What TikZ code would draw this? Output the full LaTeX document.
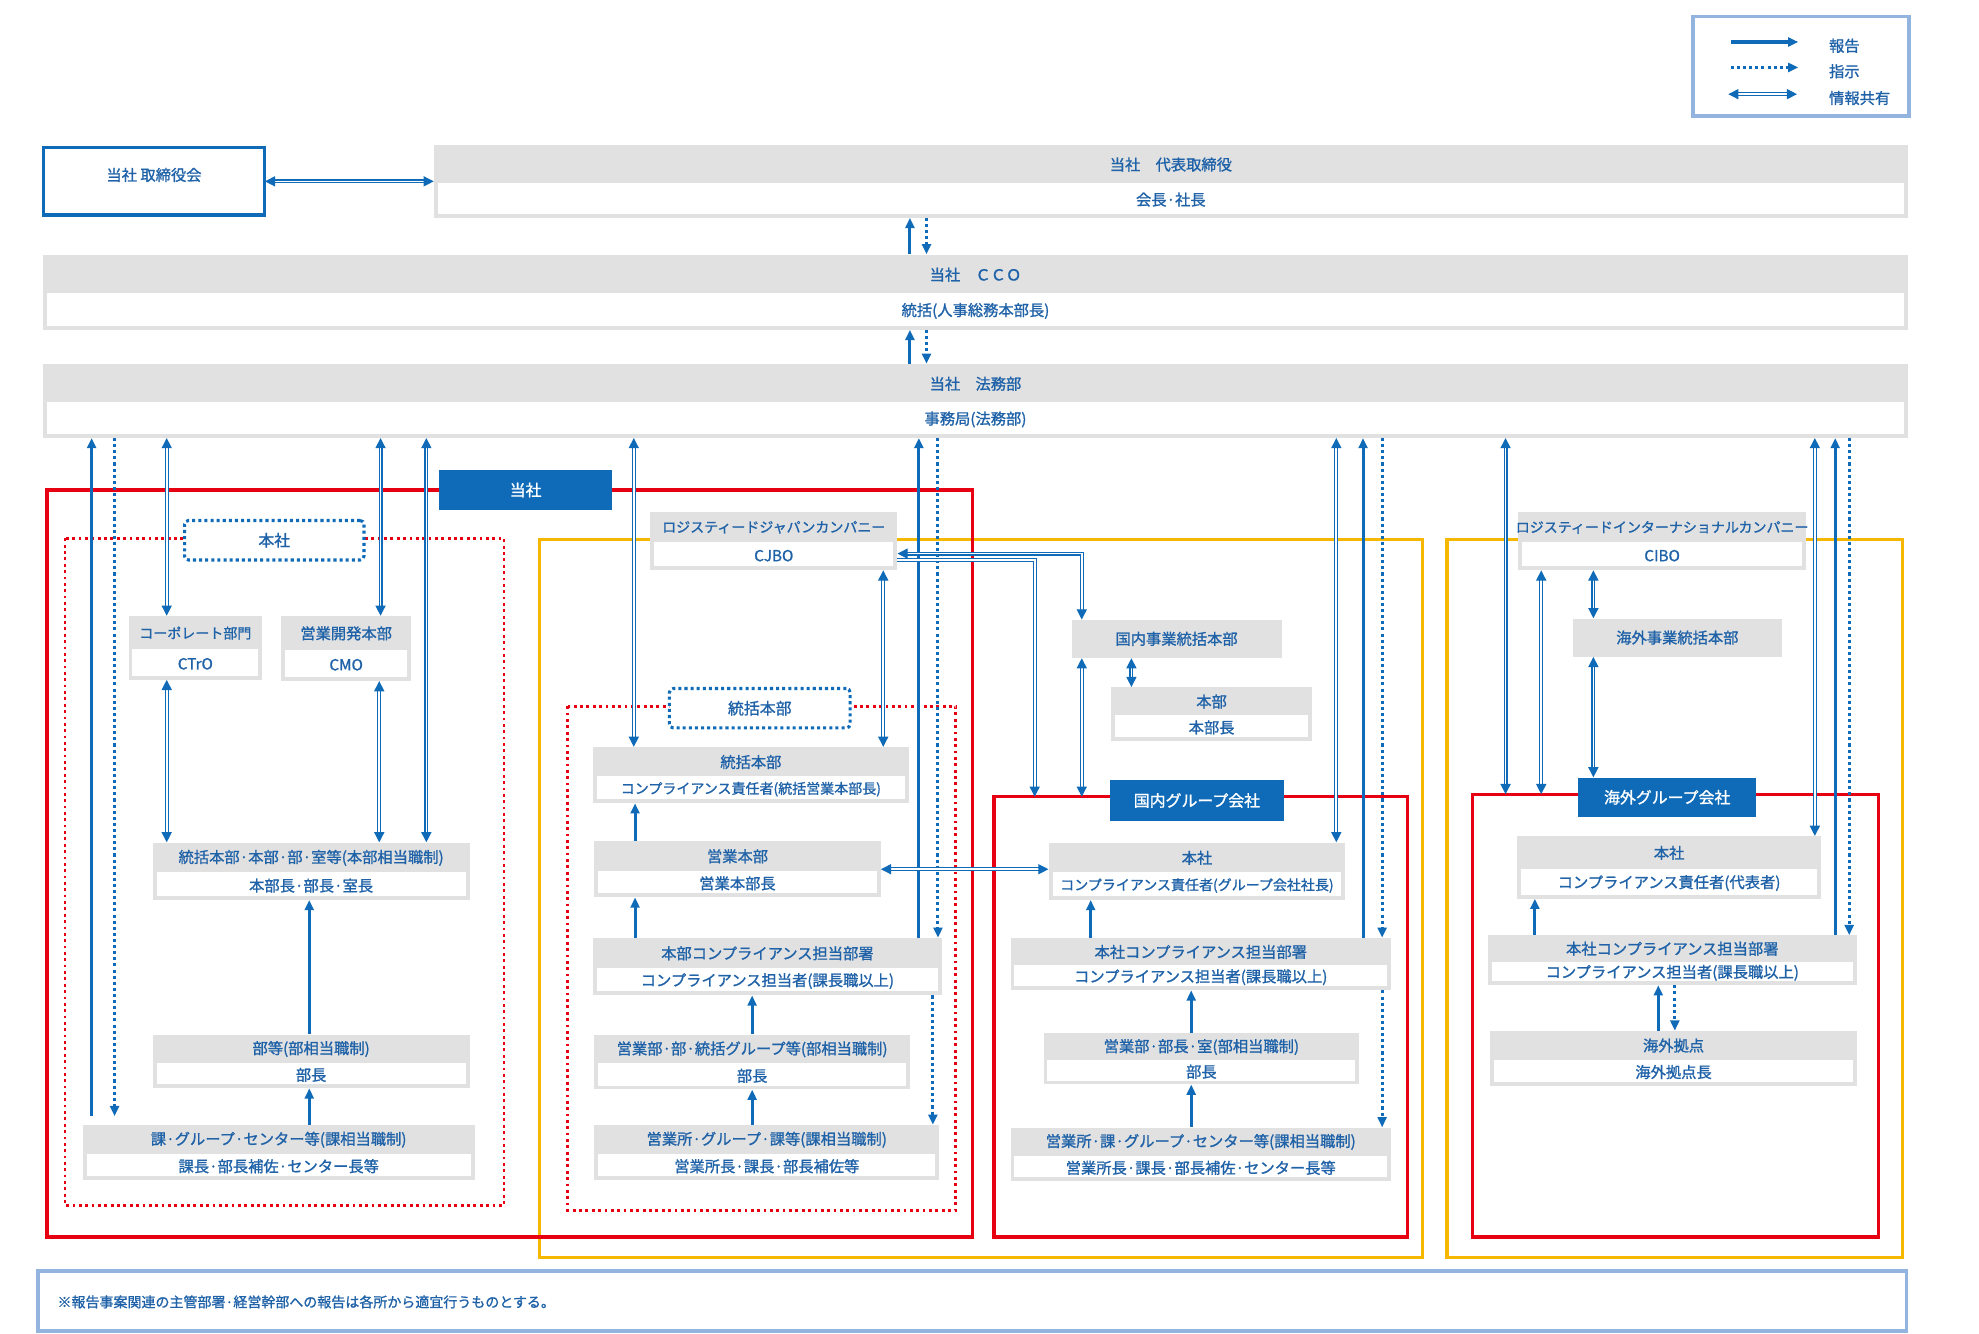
\documentclass[tikz,border=0pt]{standalone}
\usepackage{fontspec}
\setmainfont{Noto Sans CJK JP}[FakeBold=1.2,AutoFakeBold=1.2]
\usetikzlibrary{arrows.meta,calc,fit}
\definecolor{tb}{HTML}{1F62A8}
\definecolor{ab}{HTML}{0F6BB8}
\definecolor{gb}{HTML}{E1E1E1}
\definecolor{rr}{HTML}{E60012}
\definecolor{yy}{HTML}{F5B700}
\definecolor{lb}{HTML}{94B4E0}
\newcommand\smtx[1]{{\fontsize{11}{13}\selectfont #1}}
\tikzset{
 txt/.style={text=tb,font=\fontsize{12}{14}\selectfont\bfseries,inner sep=0},
 rep/.style={ab,line width=2.4pt,-{Triangle[length=8pt,width=7pt]}},
 ins/.style={ab,line width=2.4pt,dash pattern=on 2.4pt off 2.4pt,-{Triangle[length=8pt,width=7pt]}},
 shr/.style={ab,double=white,double distance=1.3pt,line width=0.9pt,{Triangle[length=8pt,width=8pt]}-{Triangle[length=8pt,width=8pt]}},
 shr1/.style={ab,double=white,double distance=1.3pt,line width=0.9pt,-{Triangle[length=8pt,width=8pt]}},
 redb/.style={rr,line width=2.5pt},
 redd/.style={rr,line width=2.2pt,dash pattern=on 2.2pt off 2.8pt},
 yelb/.style={yy,line width=2.5pt},
 lab/.style={fill=ab,text=white,font=\fontsize{12.5}{14}\selectfont\bfseries,inner sep=0},
 dlab/.style={draw=ab,line width=2.4pt,dash pattern=on 2.4pt off 2.4pt,rounded corners=3pt,fill=white,text=tb,font=\fontsize{12.5}{14}\selectfont\bfseries,inner sep=0},
}
\newcommand\bx[7]{%
 \fill[gb] (#2,#3) rectangle (#4,#5);
 \fill[white] ($(#2,#5)!0.5!(#2,#3)+(3,1)$) rectangle ($(#4,#5)+(-3,-3)$);
 \node[inner sep=0,fit={(#2,#3)(#4,#5)}] (#1) {};
 \node[txt] at ($(#1.north)!0.27!(#1.south)$) {#6};
 \node[txt] at ($(#1.north)!0.75!(#1.south)$) {#7};}
\newcommand\gbx[6]{%
 \fill[gb] (#2,#3) rectangle (#4,#5);
 \node[inner sep=0,fit={(#2,#3)(#4,#5)}] (#1) {};
 \node[txt] at (#1.center) {#6};}
\begin{document}
\begin{tikzpicture}[x=1pt,y=-1pt]
\useasboundingbox (0,0) rectangle (1555,1048);
% legend
\draw[lb,line width=3pt] (1330,13) rectangle (1500,91);
\node[inner sep=0,fit={(1330,13)(1500,91)}] (leg) {};
\coordinate (l1a) at (1360,33); \coordinate (l1b) at (1413,33);
\coordinate (l2a) at (1360,53); \coordinate (l2b) at (1413,53);
\coordinate (l3a) at (1358,74); \coordinate (l3b) at (1412,74);
\draw[rep] (l1a) -- (l1b); \draw[ins] (l2a) -- (l2b); \draw[shr] (l3a) -- (l3b);
\node[txt,anchor=west] at (1437,36) {報告};
\node[txt,anchor=west] at (1437,56) {指示};
\node[txt,anchor=west] at (1437,77) {情報共有};
% top
\draw[ab,line width=2.5pt,fill=white] (34,116) rectangle (208,169);
\node[inner sep=0,fit={(34,116)(208,169)},txt] (tor) {当社 取締役会};
\bx{dai}{341}{114}{1499}{171}{当社　代表取締役}{会長·社長}
\bx{cco}{34}{200}{1499}{259}{当社　ＣＣＯ}{統括(人事総務本部長)}
\bx{hom}{34}{286}{1499}{344}{当社　法務部}{事務局(法務部)}
\draw[shr] (tor.east) -- (dai.west |- tor.east);
\draw[rep] (cco.north -| 715,0) -- (dai.south -| 715,0);
\draw[ins] (dai.south -| 728,0) -- (cco.north -| 728,0);
\draw[rep] (hom.north -| 715,0) -- (cco.south -| 715,0);
\draw[ins] (cco.south -| 728,0) -- (hom.north -| 728,0);
% frames
\draw[yelb] (424,424) rectangle (1118,988);
\draw[yelb] (1137,424) rectangle (1495,988);
\draw[redb] (37,385) rectangle (764,972);
\draw[redd] (51,423) rectangle (396,947);
\draw[redd] (446,555) rectangle (751,951);
\draw[redb] (781,626) rectangle (1106,972);
\draw[redb] (1157,624) rectangle (1476,972);
\node[lab,minimum width=136pt,minimum height=32pt] (lt) at (413,385) {当社};
\node[dlab,minimum width=141pt,minimum height=31pt] (lh) at (215.5,424.5) {本社};
\node[dlab,minimum width=142pt,minimum height=31pt] (lg) at (597,556.5) {統括本部};
\node[lab,minimum width=137pt,minimum height=32pt] (ld) at (940.5,629) {国内グループ会社};
\node[lab,minimum width=140pt,minimum height=31pt] (lo) at (1310,626.5) {海外グループ会社};
% 本社
\bx{ctr}{101}{484}{206}{534}{\smtx{コーポレート部門}}{CTrO}
\bx{cmo}{221}{484}{323}{535}{営業開発本部}{CMO}
\bx{h1}{120}{662}{369}{707}{統括本部·本部·部·室等(本部相当職制)}{本部長·部長·室長}
\bx{h2}{120}{813}{369}{855}{部等(部相当職制)}{部長}
\bx{h3}{65}{884}{373}{927}{課·グループ·センター等(課相当職制)}{課長·部長補佐·センター長等}
\draw[rep] (72,877) -- (hom.south -| 72,0);
\draw[ins] (hom.south -| 90,0) -- (90,877);
\draw[shr] (hom.south -| 131,0) -- (ctr.north -| 131,0);
\draw[shr] (hom.south -| 299,0) -- (cmo.north -| 299,0);
\draw[shr] (hom.south -| 335,0) -- (h1.north -| 335,0);
\draw[shr] (ctr.south -| 131,0) -- (h1.north -| 131,0);
\draw[shr] (cmo.south -| 298,0) -- (h1.north -| 298,0);
\draw[rep] (h2.north -| 243,0) -- (h1.south -| 243,0);
\draw[rep] (h3.north -| 243,0) -- (h2.south -| 243,0);
% Japan company
\bx{cjbo}{511}{402}{705}{448}{\smtx{ロジスティードジャパンカンパニー}}{CJBO}
\bx{j1}{466}{587}{714}{631}{統括本部}{\smtx{コンプライアンス責任者(統括営業本部長)}}
\bx{j2}{467}{661}{692}{705}{営業本部}{営業本部長}
\bx{j3}{466}{737}{740}{782}{本部コンプライアンス担当部署}{コンプライアンス担当者(課長職以上)}
\bx{j4}{467}{813}{715}{856}{営業部·部·統括グループ等(部相当職制)}{部長}
\bx{j5}{467}{884}{738}{927}{営業所·グループ·課等(課相当職制)}{営業所長·課長·部長補佐等}
\draw[shr] (hom.south -| 498,0) -- (j1.north -| 498,0);
\draw[shr] (cjbo.south -| 694,0) -- (j1.north -| 694,0);
\draw[rep] (j2.north -| 499,0) -- (j1.south -| 499,0);
\draw[rep] (j3.north -| 499,0) -- (j2.south -| 499,0);
\draw[rep] (j4.north -| 591,0) -- (j3.south -| 591,0);
\draw[rep] (j5.north -| 591,0) -- (j4.south -| 591,0);
\draw[rep] (j3.north -| 722,0) -- (hom.south -| 722,0);
\draw[ins] (hom.south -| 737,0) -- (j3.north -| 737,0);
\draw[ins] (j3.south -| 733,0) -- (j5.north -| 733,0);
% domestic
\gbx{dct}{842}{487}{1007}{517}{国内事業統括本部}
\bx{dhb}{873}{540}{1031}{582}{本部}{本部長}
\bx{d1}{824}{662}{1057}{707}{本社}{\smtx{コンプライアンス責任者(グループ会社社長)}}
\bx{d2}{794}{737}{1093}{778}{本社コンプライアンス担当部署}{コンプライアンス担当者(課長職以上)}
\bx{d3}{820}{812}{1068}{852}{営業部·部長·室(部相当職制)}{部長}
\bx{d4}{794}{886}{1093}{928}{営業所·課·グループ·センター等(課相当職制)}{営業所長·課長·部長補佐·センター長等}
\draw[shr] (cjbo.east |- 0,435) -| (dct.north -| 850,0);
\draw[shr1] (cjbo.east |- 0,440) -| (813,626);
\draw[shr] (dct.south -| 850,0) -- (850,626);
\draw[shr] (dct.south -| 889,0) -- (dhb.north -| 889,0);
\draw[shr] (j2.east |- 0,683) -- (d1.west |- 0,683);
\draw[rep] (d2.north -| 857,0) -- (d1.south -| 857,0);
\draw[rep] (d3.north -| 936,0) -- (d2.south -| 936,0);
\draw[rep] (d4.north -| 936,0) -- (d3.south -| 936,0);
\draw[shr] (hom.south -| 1050,0) -- (d1.north -| 1050,0);
\draw[rep] (d2.north -| 1071,0) -- (hom.south -| 1071,0);
\draw[ins] (hom.south -| 1086,0) -- (d2.north -| 1086,0);
\draw[ins] (d2.south -| 1086,0) -- (d4.north -| 1086,0);
% overseas
\bx{cibo}{1193}{402}{1419}{448}{\smtx{ロジスティードインターナショナルカンパニー}}{CIBO}
\gbx{oct}{1236}{486}{1400}{516}{海外事業統括本部}
\bx{o1}{1192}{657}{1431}{706}{本社}{コンプライアンス責任者(代表者)}
\bx{o2}{1169}{735}{1459}{774}{本社コンプライアンス担当部署}{コンプライアンス担当者(課長職以上)}
\bx{o3}{1171}{810}{1459}{853}{海外拠点}{海外拠点長}
\draw[shr] (hom.south -| 1183,0) -- (1183,624);
\draw[shr] (cibo.south -| 1211,0) -- (1211,624);
\draw[shr] (cibo.south -| 1252,0) -- (oct.north -| 1252,0);
\draw[shr] (oct.south -| 1252,0) -- (lo.north -| 1252,0);
\draw[shr] (hom.south -| 1426,0) -- (o1.north -| 1426,0);
\draw[rep] (o2.north -| 1442,0) -- (hom.south -| 1442,0);
\draw[ins] (hom.south -| 1453,0) -- (o2.north -| 1453,0);
\draw[rep] (o2.north -| 1206,0) -- (o1.south -| 1206,0);
\draw[rep] (o3.north -| 1303,0) -- (o2.south -| 1303,0);
\draw[ins] (o2.south -| 1316,0) -- (o3.north -| 1316,0);
% note
\draw[lb,line width=3pt] (30,999) rectangle (1498,1046);
\node[inner sep=0,fit={(30,999)(1498,1046)}] (note) {};
\node[txt,anchor=west,font=\fontsize{11}{13}\selectfont] at (45,1023) {※報告事案関連の主管部署·経営幹部への報告は各所から適宜行うものとする。};
\end{tikzpicture}
\end{document}
